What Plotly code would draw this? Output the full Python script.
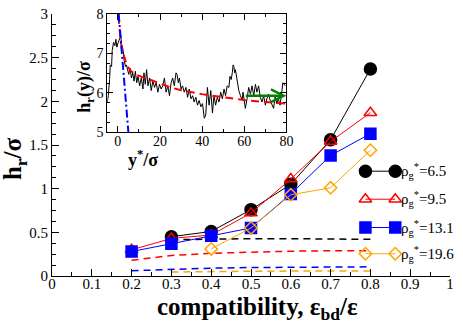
import plotly.graph_objects as go

# main panel: h_r/sigma against compatibility eps_bd/eps
compat = [0.2, 0.3, 0.4, 0.5, 0.6, 0.7, 0.8]
rho_labels = ["6.5", "9.5", "13.1", "19.6"]
h_rho65 = [None, 0.45, 0.51, 0.76, 1.05, 1.56, 2.37]
h_rho95 = [0.30, 0.43, 0.47, 0.72, 1.11, 1.54, 1.87]
h_rho131 = [0.28, 0.37, 0.46, 0.55, 0.94, 1.38, 1.63]
h_rho196 = [None, None, 0.31, 0.55, 0.93, 1.01, 1.44]

# dashed curves (same colour code)
dash65 = [None, 0.415, 0.425, 0.428, 0.427, 0.424, 0.42]
dash95 = [0.18, 0.235, 0.26, 0.275, 0.284, 0.289, 0.29]
dash131 = [0.06, 0.078, 0.09, 0.097, 0.10, 0.103, 0.105]
dash196 = [None, 0.045, 0.052, 0.055, 0.056, 0.057, 0.057]

# inset: h_r(y)/sigma profile
inset_ystar = [-5.0, -4.55, -3.92, -3.61, -2.98, -2.67, -2.04, -1.41, -0.94, -0.47,
               0.16, 0.78, 1.41, 1.72, 2.19, 2.51, 2.98, 3.61, 4.08, 4.55,
               5.17, 5.8, 6.43, 7.06, 7.68, 8.31, 8.94, 9.57, 10.35, 11.13,
               11.92, 12.39, 13.02, 13.64, 14.27, 15.06, 15.84, 16.62, 17.41, 18.19,
               18.98, 19.76, 20.55, 21.33, 22.1, 22.9, 23.7, 24.5, 25.3, 26.0,
               26.8, 27.6, 28.1, 28.7, 29.2, 30.0, 30.7, 31.5, 32.3, 33.1,
               33.9, 34.7, 35.5, 36.2, 37.0, 37.8, 38.6, 39.4, 40.2, 41.0,
               41.7, 42.5, 43.3, 44.1, 44.9, 45.6, 46.4, 47.2, 48.0, 48.8,
               49.6, 50.4, 51.1, 51.9, 52.7, 53.2, 53.8, 54.3, 54.7, 55.1,
               55.4, 55.8, 56.3, 56.9, 57.4, 58.2, 59.0, 59.4, 60.1, 60.5,
               61.3, 62.1, 62.9, 63.7, 64.5, 65.3, 66.0, 66.8, 67.6, 68.4,
               69.2, 70.0, 70.7, 71.5, 72.3, 73.1, 73.9, 74.7, 75.4, 76.2,
               77.0, 77.8, 78.3, 78.9, 79.4]
inset_h = [5.77, 5.93, 6.34, 6.71, 6.67, 7.08, 7.28, 7.20, 7.36, 7.16,
           7.28, 7.36, 7.45, 7.24, 7.16, 7.08, 6.83, 6.67, 6.71, 6.59,
           6.47, 6.63, 6.38, 6.51, 6.30, 6.55, 6.26, 6.42, 6.18, 6.38,
           6.10, 6.51, 6.22, 6.59, 6.18, 6.38, 6.06, 6.30, 6.14, 6.26,
           6.02, 6.22, 6.10, 6.18, 6.38, 6.02, 6.18, 5.93, 6.26, 6.38,
           6.18, 6.51, 6.47, 6.26, 6.38, 6.10, 6.18, 6.02, 6.14, 5.89,
           6.10, 5.85, 5.93, 5.77, 5.89, 5.69, 5.81, 5.65, 5.73, 5.36,
           5.44, 6.14, 5.69, 6.06, 5.49, 5.93, 5.69, 5.89, 5.77, 6.02,
           5.85, 6.10, 5.93, 6.18, 6.14, 6.42, 6.34, 6.51, 6.71, 6.67,
           6.51, 6.59, 6.38, 6.22, 6.06, 5.93, 5.81, 6.02, 5.69, 5.61,
           5.85, 6.14, 5.97, 6.18, 5.93, 6.22, 6.02, 6.18, 5.89, 5.77,
           5.93, 5.69, 5.85, 5.97, 5.81, 5.69, 5.61, 5.93, 5.73, 5.85,
           5.69, 6.02, 6.26, 6.22, 6.18]

fit_ystar = [0.2, 0.5, 1, 1.5, 2, 3, 4, 5, 6, 8, 10, 13, 16, 20, 25, 30, 40, 50, 60, 70, 80]
fit_h = [7.95, 7.75, 7.47, 7.25, 7.10, 6.90, 6.75, 6.64, 6.57, 6.48, 6.43, 6.37,
         6.32, 6.24, 6.14, 6.07, 5.97, 5.89, 5.82, 5.77, 5.73]

slope_ystar = [0.4, 5.0]
slope_h = [8.0, 5.0]

plateau_ystar = [60, 80]
plateau_h = 5.93

colors = ["black", "red", "blue", "orange"]
symbols = ["circle", "triangle-up-open", "square", "diamond-open"]
sizes = [12, 11, 11, 9.5]
series = [h_rho65, h_rho95, h_rho131, h_rho196]
dashed = [dash65, dash95, dash131, dash196]

fig = go.Figure()

for ys, c in zip(dashed, colors):
    fig.add_trace(go.Scatter(x=compat, y=ys, mode="lines",
                             line=dict(color=c, width=1.5, dash="7px,5px")))

for ys, c, s, sz in zip(series, colors, symbols, sizes):
    fig.add_trace(go.Scatter(x=compat, y=ys, mode="lines+markers",
                             line=dict(color=c, width=1),
                             marker=dict(symbol=s, size=sz, color=c,
                                         line=dict(color=c, width=1.5))))

# hand-made legend (two markers joined by a line, xmgrace style)
leg_y = [0.40, 0.293, 0.185, 0.085]
for c, s, sz, ly, lab in zip(colors, symbols, sizes, leg_y, rho_labels):
    fig.add_trace(go.Scatter(x=[0.7875, 0.8625], y=[ly, ly], xaxis="x3", yaxis="y3",
                             mode="lines+markers", line=dict(color=c, width=1),
                             marker=dict(symbol=s, size=sz, color=c,
                                         line=dict(color=c, width=1.5))))
    fig.add_annotation(x=0.8725, y=ly, xref="paper", yref="paper", xanchor="left",
                       yanchor="middle", showarrow=False,
                       text="ρ<sub>g</sub><sup>*</sup>=" + lab,
                       font=dict(size=15))

# inset
fig.add_trace(go.Scatter(x=inset_ystar, y=inset_h, xaxis="x2", yaxis="y2", mode="lines",
                         line=dict(color="black", width=1)))
fig.add_trace(go.Scatter(x=fit_ystar, y=fit_h, xaxis="x2", yaxis="y2", mode="lines",
                         line=dict(color="red", width=2, dash="8px,5px")))
fig.add_trace(go.Scatter(x=slope_ystar, y=slope_h, xaxis="x2", yaxis="y2", mode="lines",
                         line=dict(color="blue", width=2, dash="8px,3px,2px,3px")))
fig.add_annotation(x=plateau_ystar[1], y=plateau_h, ax=plateau_ystar[0], ay=plateau_h,
                   xref="x2", yref="y2", axref="x2", ayref="y2", text="",
                   showarrow=True, arrowhead=5, arrowsize=1.0, arrowwidth=2.5,
                   arrowcolor="green")

# axis titles
titles = [
    (-0.0925, 0.447, "<b>h<sub>r</sub>/σ</b>", -90, 25),
    (0.5175, -0.125, "<b>compatibility, ε<sub>bd</sub>/ε</b>", 0, 25),
    (0.085, 0.722, "<b>h<sub>r</sub>(y)/σ</b>", -90, 18),
    (0.228, 0.45, "<b>y<sup>*</sup>/σ</b>", 0, 18),
]
for tx, ty, txt, ang, fs in titles:
    fig.add_annotation(x=tx, y=ty, xref="paper", yref="paper", showarrow=False,
                       xanchor="center", yanchor="middle", text=txt,
                       textangle=ang, font=dict(size=fs))

ax_common = dict(showgrid=False, zeroline=False, showline=True, linecolor="black",
                 linewidth=1, ticks="inside", tickcolor="black", tickwidth=1,
                 ticklabeloverflow="allow")

fig.update_layout(
    width=463, height=323,
    margin=dict(l=52, r=11, t=6, b=47),
    plot_bgcolor="rgba(0,0,0,0)", paper_bgcolor="white",
    showlegend=False,
    font=dict(family="Liberation Serif", size=15, color="black"),
    xaxis=dict(range=[0, 1], tickmode="linear", tick0=0, dtick=0.1, ticklen=7,
               ticklabelstandoff=-6,
               minor=dict(dtick=0.05, ticks="inside", ticklen=4, tickcolor="black"),
               **ax_common),
    yaxis=dict(range=[0, 3], tickmode="linear", tick0=0, dtick=0.5, ticklen=7,
               minor=dict(dtick=0.125, ticks="inside", ticklen=4, tickcolor="black"),
               **ax_common),
    xaxis2=dict(domain=[0.139, 0.589], anchor="y2", range=[-5, 80], tickmode="linear",
                tick0=0, dtick=20, ticklen=6, mirror="allticks", tickfont=dict(size=14),
                ticklabelstandoff=-4,
                minor=dict(dtick=10, ticks="inside", ticklen=3, tickcolor="black"),
                **ax_common),
    yaxis2=dict(domain=[0.548, 1.0], anchor="x2", range=[5, 8], tickmode="linear",
                tick0=5, dtick=1, ticklen=6, mirror="allticks", tickfont=dict(size=14),
                minor=dict(dtick=0.25, ticks="inside", ticklen=3, tickcolor="black"),
                **ax_common),
    xaxis3=dict(domain=[0, 1], anchor="y3", range=[0, 1], visible=False),
    yaxis3=dict(domain=[0, 1], anchor="x3", range=[0, 1], visible=False),
)

fig.write_html("out.html", config={"displayModeBar": False},
               post_script="document.body.style.margin='0px';")
